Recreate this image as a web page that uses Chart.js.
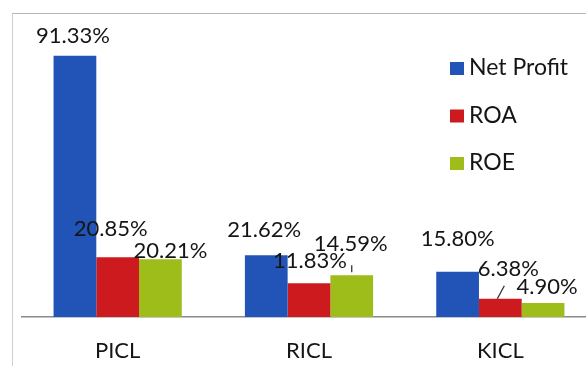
<!DOCTYPE html>
<html>
<head>
<meta charset="utf-8">
<script src="https://cdn.jsdelivr.net/npm/chart.js@4"></script>
<style>
  html, body { margin: 0; padding: 0; background: #fff; overflow: hidden; }
  #wrap { position: relative; width: 586px; height: 366px; overflow: hidden; }
  #frame { position: absolute; left: 12px; top: 13px; width: 700px; height: 400px;
           border-left: 1px solid #cfcfcf; border-top: 1px solid #b5b5b5; }
  #box { position: absolute; left: 0; top: 0; width: 610px; height: 366px; }
</style>
</head>
<body>
<div id="wrap">
  <div id="frame"></div>
  <div id="box"><canvas id="chart"></canvas></div>
</div>
<script>
const companies = ['PICL', 'RICL', 'KICL'];
const netProfit = [91.33, 21.62, 15.80];
const roa = [20.85, 11.83, 6.38];
const roe = [20.21, 14.59, 4.90];

// label nudges [dx, up] relative to the bar top, per series
const labelNudge = [
  [[-2, 13], [-2, 18], [0, 26]],
  [[-7, 21], [1, 15], [8, 23]],
  [[10, 1], [-1, 24], [4, 9]]
];
// small leader strokes: [series, point, x1, y1, x2, y2] relative to bar top
const leaders = [
  [1, 2, -3, 0, 4, -13],
  [2, 1, 0, -3, 0, -10]
];

const FONT = 'Lato, "DejaVu Sans", sans-serif';

const valueLabels = {
  id: 'valueLabels',
  afterDatasetsDraw(chart) {
    const ctx = chart.ctx;
    ctx.save();
    ctx.font = '22px ' + FONT;
    ctx.fillStyle = '#151515';
    ctx.textAlign = 'center';
    ctx.textBaseline = 'alphabetic';
    chart.data.datasets.forEach((ds, i) => {
      const meta = chart.getDatasetMeta(i);
      meta.data.forEach((bar, j) => {
        const n = labelNudge[i][j];
        ctx.fillText(ds.data[j].toFixed(2) + '%', bar.x + n[0], bar.y - n[1]);
      });
    });
    ctx.strokeStyle = '#333';
    ctx.lineWidth = 1.3;
    leaders.forEach(l => {
      const bar = chart.getDatasetMeta(l[0]).data[l[1]];
      ctx.beginPath();
      ctx.moveTo(bar.x + l[2], bar.y + l[3]);
      ctx.lineTo(bar.x + l[4], bar.y + l[5]);
      ctx.stroke();
    });
    ctx.restore();
  }
};

const sideLegend = {
  id: 'sideLegend',
  afterDraw(chart) {
    const ctx = chart.ctx;
    ctx.save();
    ctx.font = '23px ' + FONT;
    ctx.textBaseline = 'alphabetic';
    ctx.textAlign = 'left';
    chart.data.datasets.forEach((ds, i) => {
      const y = 75 + i * 47.5;
      ctx.fillStyle = ds.backgroundColor;
      ctx.fillRect(450, y - 13, 14, 13);
      ctx.fillStyle = '#151515';
      ctx.fillText(ds.label, 469, y);
    });
    ctx.restore();
  }
};

new Chart(document.getElementById('chart'), {
  type: 'bar',
  data: {
    labels: companies,
    datasets: [
      { label: 'Net Profit', data: netProfit, backgroundColor: '#2254b8' },
      { label: 'ROA', data: roa, backgroundColor: '#cc1a1f' },
      { label: 'ROE', data: roe, backgroundColor: '#9ebc1a' }
    ]
  },
  options: {
    responsive: true,
    maintainAspectRatio: false,
    animation: false,
    categoryPercentage: 0.67,
    barPercentage: 1,
    layout: { padding: { left: 22, right: 14, top: 31, bottom: 0 } },
    plugins: {
      legend: { display: false },
      tooltip: { enabled: false }
    },
    scales: {
      x: {
        grid: { display: false, drawTicks: false },
        border: { display: true, color: '#8a8a8a', width: 1.5 },
        ticks: { color: '#151515', font: { family: FONT, size: 22 }, padding: 21 },
        afterFit: s => { s.height = 49; }
      },
      y: {
        display: false,
        min: 0,
        max: 100
      }
    }
  },
  plugins: [valueLabels, sideLegend]
});
</script>
</body>
</html>
